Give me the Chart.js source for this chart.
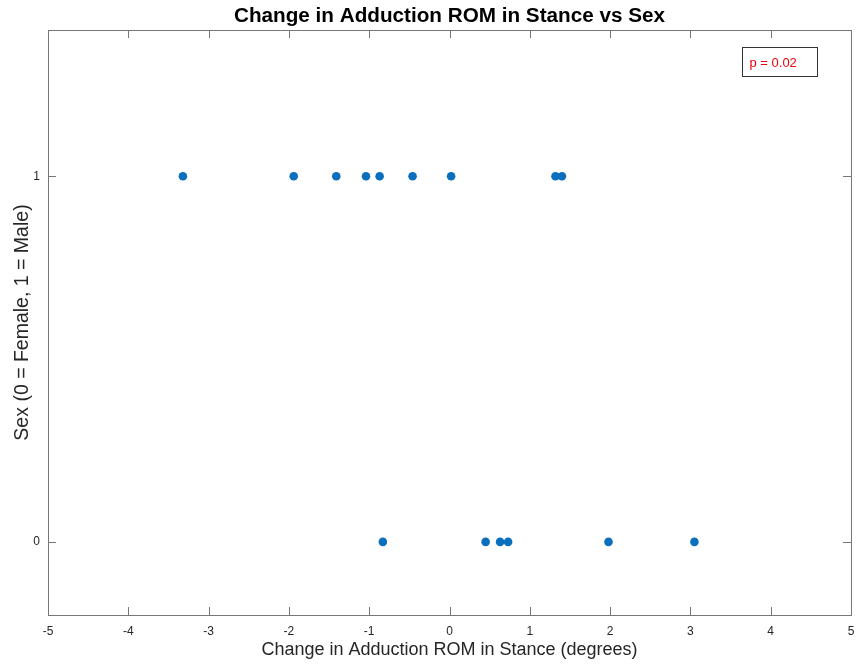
<!DOCTYPE html>
<html lang="en">
<head>
    <meta charset="UTF-8">
    <title>Change in Adduction ROM in Stance vs Sex</title>
    <script src="https://cdn.jsdelivr.net/npm/chart.js"></script>
    <style>
        html, body { margin: 0; padding: 0; background: #fff; }
        #wrap { width: 857px; height: 666px; }
    </style>
</head>
<body>
    <div id="wrap"><canvas id="romChart"></canvas></div>

    <script>
        // ROM change (degrees) per subject, split by sex
        const maleRom = [-3.32, -1.94, -1.41, -1.04, -0.87, -0.46, 0.02, 1.32, 1.40];
        const femaleRom = [-0.83, 0.45, 0.63, 0.73, 1.98, 3.05];
        const sexCodes = { female: 0, male: 1 };
        const xTickValues = [-5, -4, -3, -2, -1, 0, 1, 2, 3, 4, 5];
        const yTickValues = [0, 1];
        const pText = 'p = 0.02';

        const axisColor = '#777';
        const textColor = '#262626';
        const dotColor = '#0a6fbd';

        const points = maleRom.map(v => ({ x: v, y: sexCodes.male }))
            .concat(femaleRom.map(v => ({ x: v, y: sexCodes.female })));

        // box round the axes, inward tick marks, and the p-value note
        const axesBox = {
            id: 'axesBox',
            afterDatasetsDraw(chart) {
                const { ctx, chartArea: a, scales } = chart;
                const len = 8;
                ctx.save();
                ctx.strokeStyle = axisColor;
                ctx.lineWidth = 1;
                ctx.strokeRect(Math.round(a.left) + 0.5, Math.round(a.top) + 0.5,
                    Math.round(a.right - a.left), Math.round(a.bottom - a.top));
                ctx.beginPath();
                xTickValues.forEach(v => {
                    const px = Math.round(scales.x.getPixelForValue(v)) + 0.5;
                    ctx.moveTo(px, a.bottom); ctx.lineTo(px, a.bottom - len);
                    ctx.moveTo(px, a.top); ctx.lineTo(px, a.top + len);
                });
                yTickValues.forEach(v => {
                    const py = Math.round(scales.y.getPixelForValue(v)) + 0.5;
                    ctx.moveTo(a.left, py); ctx.lineTo(a.left + len, py);
                    ctx.moveTo(a.right, py); ctx.lineTo(a.right - len, py);
                });
                ctx.stroke();

                // p-value box in the upper right corner
                const bw = 75, bh = 29;
                const bx = Math.round(a.right - 34 - bw) + 0.5;
                const by = Math.round(a.top + 17) + 0.5;
                ctx.fillStyle = '#fff';
                ctx.fillRect(bx, by, bw, bh);
                ctx.strokeStyle = '#333';
                ctx.strokeRect(bx, by, bw, bh);
                ctx.fillStyle = '#e8000b';
                ctx.font = '13px "Liberation Sans", Arial, sans-serif';
                ctx.textBaseline = 'middle';
                ctx.fillText(pText, bx + 7, by + bh / 2 + 1);
                ctx.restore();
            }
        };

        const font = '"Liberation Sans", Arial, sans-serif';

        new Chart(document.getElementById('romChart'), {
            type: 'scatter',
            data: {
                datasets: [{
                    label: 'Sex',
                    data: points,
                    backgroundColor: dotColor,
                    borderColor: dotColor,
                    pointRadius: 4.3,
                    pointBorderWidth: 0
                }]
            },
            options: {
                responsive: true,
                maintainAspectRatio: false,
                animation: false,
                layout: { padding: { top: 0, right: 6, bottom: 0, left: 0 } },
                plugins: {
                    legend: { display: false },
                    tooltip: { enabled: false },
                    title: {
                        display: true,
                        fullSize: false,
                        text: 'Change in Adduction ROM in Stance vs Sex',
                        color: '#000',
                        font: { family: font, size: 20.7, weight: 'bold', lineHeight: 1.2 },
                        padding: { top: 4, bottom: 1.16 }
                    }
                },
                scales: {
                    x: {
                        type: 'linear',
                        min: -5,
                        max: 5,
                        afterBuildTicks: s => { s.ticks = xTickValues.map(v => ({ value: v })); },
                        afterFit: s => { s.height = 51; s.paddingLeft = 0; s.paddingRight = 0; },
                        grid: { display: false, drawTicks: false },
                        border: { display: false },
                        ticks: {
                            color: textColor,
                            padding: 9,
                            maxRotation: 0,
                            font: { family: font, size: 12 }
                        },
                        title: {
                            display: true,
                            text: 'Change in Adduction ROM in Stance (degrees)',
                            color: textColor,
                            font: { family: font, size: 18, lineHeight: 1.2 },
                            padding: { top: 0, bottom: 5 }
                        }
                    },
                    y: {
                        type: 'linear',
                        min: -0.2,
                        max: 1.4,
                        afterBuildTicks: s => { s.ticks = yTickValues.map(v => ({ value: v })); },
                        afterFit: s => { s.width = 48; s.paddingTop = 0; s.paddingBottom = 0; },
                        grid: { display: false, drawTicks: false },
                        border: { display: false },
                        ticks: {
                            color: textColor,
                            padding: 8,
                            font: { family: font, size: 12 }
                        },
                        title: {
                            display: true,
                            text: 'Sex (0 = Female, 1 = Male)',
                            color: textColor,
                            font: { family: font, size: 19.5, lineHeight: 1.2 },
                            padding: { top: 11, bottom: 0 }
                        }
                    }
                }
            },
            plugins: [axesBox]
        });
    </script>
</body>
</html>
